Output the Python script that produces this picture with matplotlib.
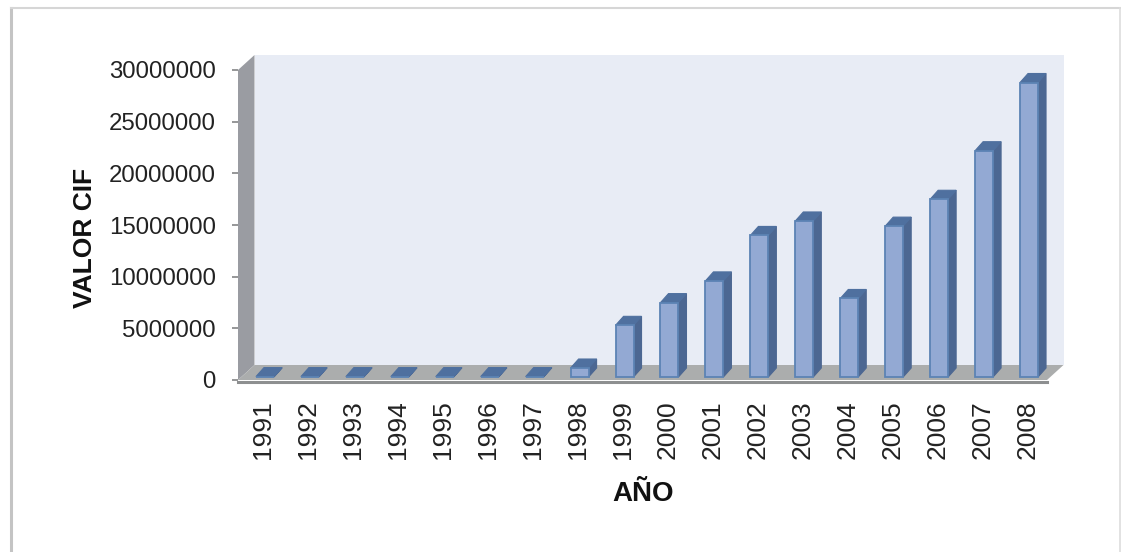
import logging
import matplotlib
matplotlib.use("Agg")
import matplotlib.pyplot as plt
from matplotlib.lines import Line2D
from matplotlib.patches import Polygon
from matplotlib.transforms import Affine2D

logging.getLogger("matplotlib.font_manager").setLevel(logging.ERROR)

years = [1991, 1992, 1993, 1994, 1995, 1996, 1997, 1998, 1999,
         2000, 2001, 2002, 2003, 2004, 2005, 2006, 2007, 2008]
valor_cif = [40000, 40000, 40000, 40000, 40000, 40000, 40000, 870000, 5000000,
             7200000, 9300000, 13700000, 15100000, 7600000, 14600000, 17200000, 21900000, 28500000]
y_ticks = [0, 5000000, 10000000, 15000000, 20000000, 25000000, 30000000]

W, H = 1121, 552
fig = plt.figure(figsize=(W / 100, H / 100), dpi=100)
fig.patch.set_facecolor("white")

# front plane of the fake 3d box
ax = fig.add_axes([238 / W, 1 - 380 / H, (1047 - 238) / W, 310 / H])
ax.set_xlim(-0.5, 17.5)
ax.set_ylim(0, 30000000)
ax.patch.set_visible(False)
for s in ax.spines.values():
    s.set_visible(False)

# box depth, in axes fraction
dx = 16.5 / 809
dy = 15 / 310
trans = ax.transAxes
ax.add_patch(Polygon([(dx, dy), (1 + dx, dy), (1 + dx, 1 + dy), (dx, 1 + dy)], transform=trans,
                     facecolor="#e8ecf5", edgecolor="none", clip_on=False, zorder=0))
ax.add_patch(Polygon([(0, 0), (dx, dy), (dx, 1 + dy), (0, 1)], transform=trans,
                     facecolor="#9a9ca2", edgecolor="none", clip_on=False, zorder=1))
ax.add_patch(Polygon([(0, 0), (1, 0), (1 + dx, dy), (dx, dy)], transform=trans,
                     facecolor="#abadad", edgecolor="none", clip_on=False, zorder=1))
ax.add_line(Line2D([0, 1], [-0.006, -0.006], transform=trans, color="#8d8f90", lw=2.2,
                   clip_on=False, zorder=1))

# bars: front face sits a bit inside the floor
shift = ax.transData + Affine2D().translate(4.5, 3)
bar_w = 0.4
side_x = 8 / 44.9
side_y = 9 / 310 * 30000000
for i, v in enumerate(valor_cif):
    x0, x1 = i - bar_w / 2, i + bar_w / 2
    ax.add_patch(Polygon([(x1, 0), (x1 + side_x, side_y), (x1 + side_x, v + side_y), (x1, v)],
                         transform=shift, facecolor="#4c6792", edgecolor="#4c6792", lw=0.8, zorder=3))
    ax.add_patch(Polygon([(x0, v), (x1, v), (x1 + side_x, v + side_y), (x0 + side_x, v + side_y)],
                         transform=shift, facecolor="#4f709f", edgecolor="#4f709f", lw=0.8, zorder=3))
ax.bar(range(len(years)), valor_cif, width=bar_w, transform=shift, color="#93a9d3",
       edgecolor="#5c83b4", linewidth=1.3, zorder=4)

ax.set_xticks(range(len(years)))
ax.set_xticklabels(years, rotation=90, fontsize=19, color="#222222", family="Liberation Sans")
ax.tick_params(axis="x", length=0, pad=14.5)
for lab in ax.get_xticklabels():
    lab.set_transform(lab.get_transform() + Affine2D().translate(3, 0))
ax.set_yticks(y_ticks)
ax.set_yticklabels(y_ticks, fontsize=17.3, color="#222222", family="Liberation Sans")
ax.tick_params(axis="y", length=4.5, width=1.3, color="#8d8f90", pad=11.5)

fig.text(85 / W, 1 - 238 / H, "VALOR CIF", rotation=90, ha="center", va="center",
         fontsize=19, fontweight="bold", family="Liberation Sans", color="#111111")
fig.text(643 / W, 1 - 494 / H, "AÑO", ha="center", va="center", fontsize=20, fontweight="bold",
         family="Liberation Sans", color="#111111")

# outer chart border, open at the bottom
fig.add_artist(Line2D([10.7 / W, 10.7 / W], [0, 1 - 8 / H], color="#c4c4c4", lw=2.2))
fig.add_artist(Line2D([10.7 / W, 1119.5 / W], [1 - 8 / H, 1 - 8 / H], color="#d6d6d6", lw=1.5))
fig.add_artist(Line2D([1119.5 / W, 1119.5 / W], [1 - 8 / H, 0], color="#dddddd", lw=1.2))

fig.savefig("out.png", dpi=100)
